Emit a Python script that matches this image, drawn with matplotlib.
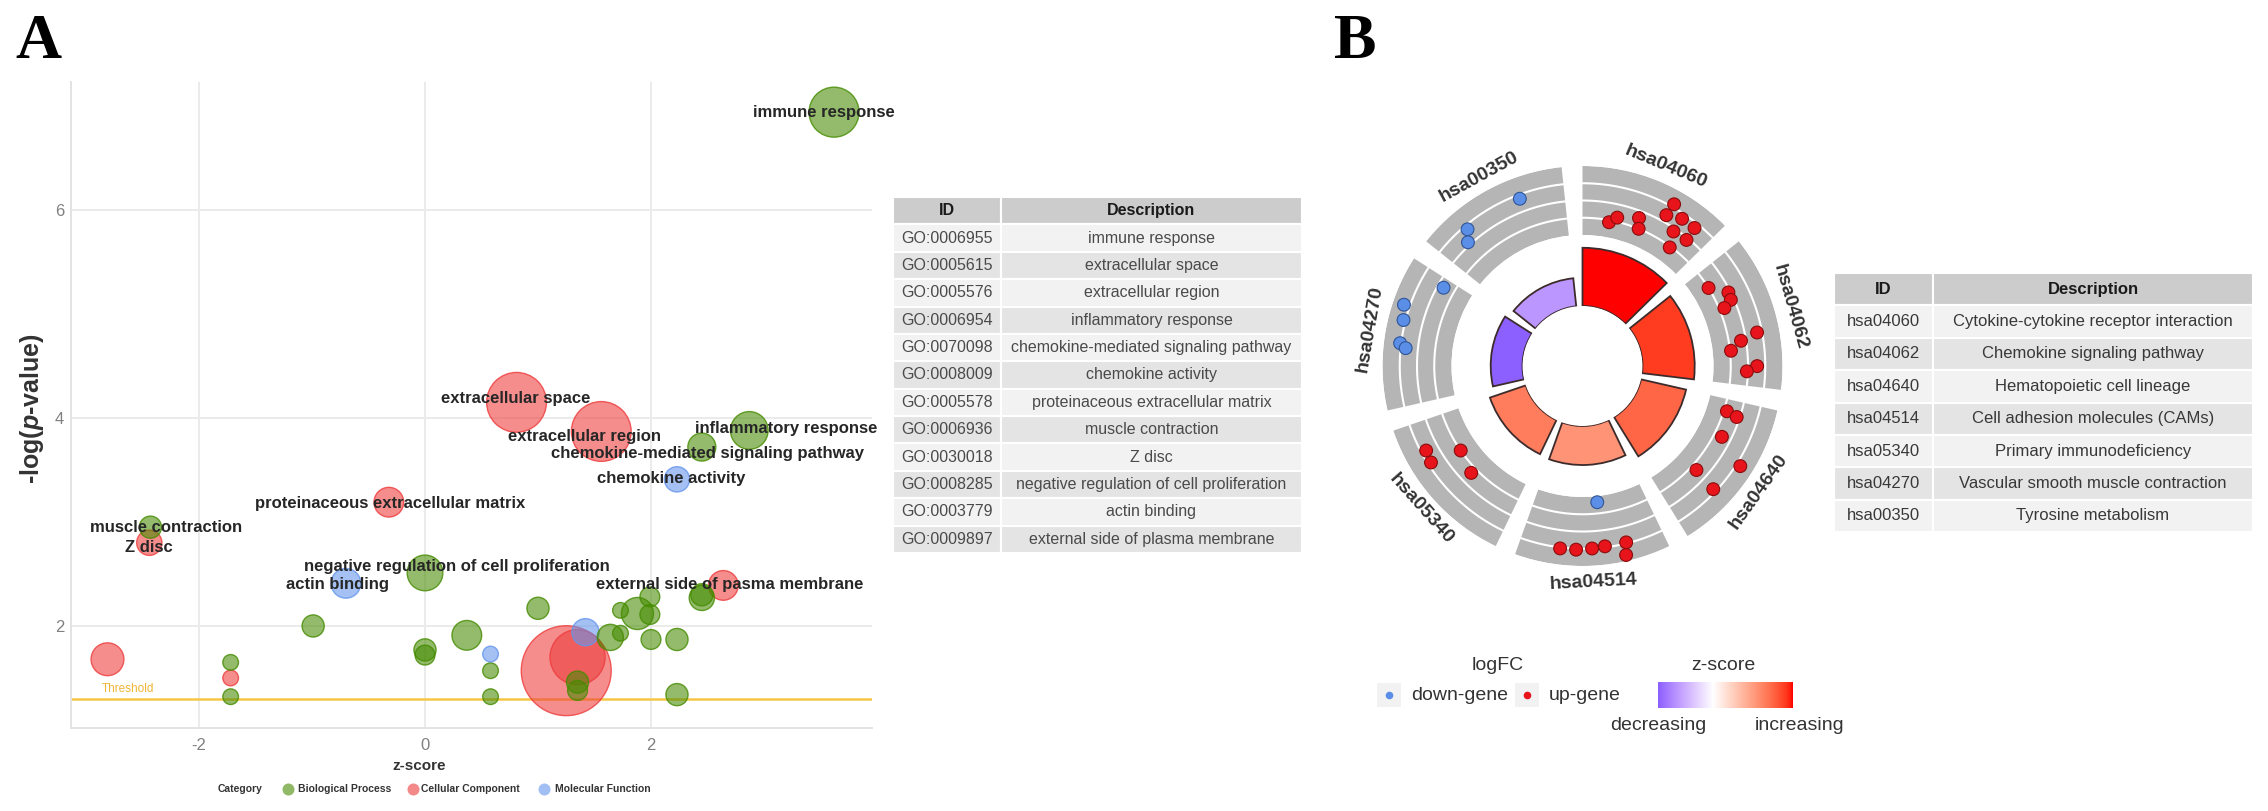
import numpy as np
import matplotlib
matplotlib.use('Agg')
import matplotlib.pyplot as plt
from matplotlib.colors import ListedColormap, Normalize, to_rgba

plt.rcParams['font.family'] = ['Liberation Sans', 'DejaVu Sans']
plt.rcParams['mathtext.fontset'] = 'custom'
plt.rcParams['mathtext.rm'] = 'Liberation Sans'
plt.rcParams['mathtext.bfit'] = 'Liberation Sans:italic:bold'
plt.rcParams['axes.unicode_minus'] = False

W, H = 2268, 811

# ---------------- panel A : GO bubble plot ----------------
bub_cat = ['CC', 'BP', 'CC', 'CC', 'BP', 'MF', 'BP', 'BP', 'BP', 'BP',
           'BP', 'MF', 'BP', 'BP', 'BP', 'CC', 'BP', 'CC', 'CC', 'MF',
           'BP', 'BP', 'BP', 'BP', 'BP', 'BP', 'BP', 'BP', 'BP', 'BP',
           'BP', 'BP', 'BP', 'CC', 'BP', 'BP', 'MF', 'CC', 'CC', 'BP']
bub_z = [-2.81, -2.43, -2.44, -0.32, 0.00, -0.70, -0.99, 1.00, 0.37, 0.00,
         0.00, 0.58, 0.58, 0.58, -1.72, -1.72, -1.72, 1.25, 1.35, 1.42,
         1.35, 1.35, 1.64, 1.73, 1.73, 1.88, 1.99, 1.99, 2.00, 2.23,
         2.23, 2.45, 2.45, 2.64, 2.87, 2.45, 2.23, 1.56, 0.81, 3.62]
bub_logp = [1.68, 2.95, 2.80, 3.19, 2.51, 2.41, 2.00, 2.17, 1.91, 1.77,
            1.72, 1.73, 1.57, 1.32, 1.65, 1.50, 1.32, 1.57, 1.70, 1.94,
            1.46, 1.38, 1.89, 2.15, 1.93, 2.12, 2.28, 2.11, 1.87, 1.87,
            1.34, 2.27, 2.30, 2.39, 3.88, 3.72, 3.41, 3.87, 4.15, 6.94]
bub_count = [22, 10, 13, 18, 26, 18, 10, 10, 18, 10,
             8, 5, 5, 5, 5, 5, 5, 165, 62, 15,
             10, 8, 14, 5, 5, 21, 8, 8, 8, 10,
             10, 13, 10, 18, 29, 16, 13, 73, 73, 51]

bub_labels = ['immune response', 'extracellular space', 'extracellular region',
              'chemokine-mediated signaling pathway', 'inflammatory response',
              'chemokine activity', 'proteinaceous extracellular matrix',
              'muscle contraction', 'Z disc',
              'negative regulation of cell proliferation', 'actin binding',
              'external side of pasma membrane']
label_xy = [(3.53, 6.94), (0.80, 4.19), (1.41, 3.82), (2.50, 3.66), (3.20, 3.90),
            (2.18, 3.42), (-0.31, 3.18), (-2.29, 2.95), (-2.44, 2.75),
            (0.28, 2.57), (-0.77, 2.40), (2.70, 2.40)]

threshold = 1.3

go_ids = ['GO:0006955', 'GO:0005615', 'GO:0005576', 'GO:0006954', 'GO:0070098',
          'GO:0008009', 'GO:0005578', 'GO:0006936', 'GO:0030018', 'GO:0008285',
          'GO:0003779', 'GO:0009897']
go_desc = ['immune response', 'extracellular space', 'extracellular region',
           'inflammatory response', 'chemokine-mediated signaling pathway',
           'chemokine activity', 'proteinaceous extracellular matrix',
           'muscle contraction', 'Z disc', 'negative regulation of cell proliferation',
           'actin binding', 'external side of plasma membrane']

# ---------------- panel B : KEGG circle ----------------
kegg_ids = ['hsa04060', 'hsa04062', 'hsa04640', 'hsa04514', 'hsa05340', 'hsa04270', 'hsa00350']
kegg_desc = ['Cytokine-cytokine receptor interaction', 'Chemokine signaling pathway',
             'Hematopoietic cell lineage', 'Cell adhesion molecules (CAMs)',
             'Primary immunodeficiency', 'Vascular smooth muscle contraction',
             'Tyrosine metabolism']
kegg_z = [3.32, 2.99, 2.49, 1.83, 2.16, -2.29, -1.49]
kegg_logp = [9.7, 8.7, 7.7, 6.5, 6.3, 5.3, 4.7]

# genes on the outer track: term index, place along the term, logFC track value, up/down
gene_term = [0] * 11 + [1] * 9 + [2] * 6 + [3] * 7 + [4] * 4 + [5] * 5 + [6] * 3
gene_frac = [0.23, 0.29, 0.46, 0.49, 0.65, 0.64, 0.75, 0.75, 0.86, 0.87, 0.80,
             0.15, 0.26, 0.32, 0.36, 0.61, 0.65, 0.72, 0.85, 0.89,
             0.10, 0.12, 0.31, 0.65, 0.43, 0.67,
             0.43, 0.72, 0.61, 0.50, 0.41, 0.26, 0.28,
             0.79, 0.70, 0.65, 0.45,
             0.93, 0.70, 0.60, 0.44, 0.41,
             0.68, 0.25, 0.19]
gene_track = [0.88, 1.24, 1.59, 1.00, 3.18, 2.41, 2.71, 1.82, 2.71, 1.88, 0.94,
              1.00, 1.88, 1.82, 1.29, 2.71, 1.71, 1.06, 2.53, 1.94,
              1.18, 1.82, 1.47, 1.35, 3.24, 2.82,
              0.35, 3.06, 3.06, 3.00, 2.94, 2.94, 3.65,
              2.71, 2.82, 1.00, 1.35,
              1.65, 3.35, 3.12, 3.06, 2.71,
              2.76, 2.76, 2.18]
gene_up = [True] * 20 + [True] * 6 + [False] + [True] * 6 + [True] * 4 + [False] * 5 + [False] * 3


def lab2rgb(L, a, b):
    fy = (L + 16) / 116
    fx = fy + a / 500
    fz = fy - b / 200

    def finv(t):
        return np.where(t ** 3 > 0.008856, t ** 3, (t - 16 / 116) / 7.787)
    xyz = np.stack([0.95047 * finv(fx), finv(fy), 1.08883 * finv(fz)])
    M = np.array([[3.2406, -1.5372, -0.4986], [-0.9689, 1.8758, 0.0415], [0.0557, -0.2040, 1.0570]])
    rgb = M @ xyz
    rgb = np.where(rgb > 0.0031308, 1.055 * np.abs(rgb) ** (1 / 2.4) - 0.055, 12.92 * rgb)
    return np.clip(rgb, 0, 1).T


# blue - white - red gradient interpolated in Lab (like scale_fill_gradient2)
tt = np.linspace(-1, 1, 256)
white = np.array([100.0, 0, 0])
red = np.array([53.24, 80.09, 67.20])
blue = np.array([32.30, 79.19, -107.86])
lab = np.where(tt[:, None] < 0, white + (-tt[:, None]) * (blue - white), white + tt[:, None] * (red - white))
zcmap = ListedColormap(lab2rgb(lab[:, 0], lab[:, 1], lab[:, 2]))
zmax = max(abs(v) for v in kegg_z)
znorm = Normalize(-zmax, zmax)

fig = plt.figure(figsize=(W / 100, H / 100), dpi=100)


def px_axes(x0, y0, x1, y1, **kw):
    return fig.add_axes([x0 / W, 1 - y1 / H, (x1 - x0) / W, (y1 - y0) / H], **kw)


# ---- bubble plot
ax = px_axes(71, 82, 872, 728)
cat_col = {'BP': '#458B00', 'CC': '#EE3B3B', 'MF': '#6495ED'}
order = np.argsort(bub_count, kind='stable')[::-1]
zs = np.array(bub_z)[order]
ps = np.array(bub_logp)[order]
cs = np.array(bub_count)[order]
face = [to_rgba(cat_col[bub_cat[i]], 0.58) for i in order]
edge = [to_rgba(cat_col[bub_cat[i]], 0.8) for i in order]
ax.axhline(threshold, color='#f5c646', lw=1.8, zorder=1)
ax.scatter(zs, ps, s=cs * 25.4, facecolors=face, edgecolors=edge, linewidths=1.0, zorder=3)
ax.text(-2.86, 1.39, 'Threshold', color='#f0b435', fontsize=8.5, ha='left', va='center', zorder=4)
for txt, (lx, ly) in zip(bub_labels, label_xy):
    ax.text(lx, ly, txt, fontsize=12, fontweight='bold', color='#262626',
            ha='center', va='center', zorder=5)
ax.set_xlim(-3.133, 3.956)
ax.set_ylim(1.019, 7.23)
ax.set_xticks([-2, 0, 2])
ax.set_yticks([2, 4, 6])
ax.tick_params(length=0, labelsize=12, labelcolor='#808080')
ax.tick_params(axis='x', pad=7)
ax.tick_params(axis='y', pad=5)
ax.grid(color='#ebebeb', lw=1.4, zorder=0)
ax.set_axisbelow(True)
for sp in ['top', 'right']:
    ax.spines[sp].set_visible(False)
for sp in ['left', 'bottom']:
    ax.spines[sp].set_color('#e3e3e3')
    ax.spines[sp].set_linewidth(1.4)
ax.text((419 - 71) / 801, -(766 - 728) / 646, 'z-score', transform=ax.transAxes,
        ha='center', va='center', fontsize=11, fontweight='bold', color='#333333')
ax.text(-(71 - 32) / 801, 0.494, r'-log($\mathbfit{p}$-value)', transform=ax.transAxes,
        rotation=90, ha='center', va='center', fontsize=18, fontweight='bold', color='#333333')

# ---- tables
def draw_table(box, ids, desc, col_frac, fs, txt_col):
    tax = px_axes(*box)
    tax.set_axis_off()
    tb = tax.table(cellText=[[i, d] for i, d in zip(ids, desc)], colLabels=['ID', 'Description'],
                   cellLoc='center', colWidths=col_frac, bbox=[0, 0, 1, 1])
    tb.auto_set_font_size(False)
    tb.set_fontsize(fs)
    for (r, c), cell in tb.get_celld().items():
        cell.set_edgecolor('white')
        cell.set_linewidth(1.5)
        if r == 0:
            cell.set_facecolor('#cccccc')
            cell.get_text().set_fontweight('bold')
            cell.get_text().set_color('#1a1a1a')
        else:
            cell.set_facecolor('#f2f2f2' if r % 2 else '#e4e4e4')
            cell.get_text().set_color(txt_col)


draw_table((893, 197, 1302, 553), go_ids, go_desc, [0.264, 0.736], 11.5, '#4a4a4a')
draw_table((1834, 273, 2253, 532), kegg_ids, kegg_desc, [0.236, 0.764], 12, '#383838')

# ---- circle plot
n = len(kegg_ids)
step = 360 / n
gap = 6.0
seg_start = 90 - np.arange(n) * step
seg_end = seg_start - (step - gap)
seg_mid = (seg_start + seg_end) / 2
cx, cy, R = 1582.5, 366, 200
circ_box = (cx - R, cy - R, cx + R, cy + R)

ax_in = px_axes(*circ_box, projection='polar')
ax_in.set_rorigin(-10)
ax_in.set_ylim(0, 23.33)
ax_in.bar(np.deg2rad(seg_mid), kegg_logp, width=np.deg2rad(step - gap), bottom=0,
          color=zcmap(znorm(np.array(kegg_z))), edgecolor='#3d2b2b', linewidth=1.3)
ax_in.set_axis_off()

ax_out = px_axes(*circ_box, projection='polar')
ax_out.set_rorigin(-131 / 17.25)
ax_out.set_ylim(0, 4)
ax_out.bar(np.deg2rad(seg_mid), 4, width=np.deg2rad(step - gap), bottom=0,
           color='#b5b5b5', linewidth=0)
for s0, s1 in zip(seg_start, seg_end):
    th = np.deg2rad(np.linspace(s0, s1, 80))
    for lev in (1, 2, 3):
        ax_out.plot(th, np.full_like(th, lev), color='white', lw=1.5)
gene_theta = np.array([seg_start[t] - f * (step - gap) for t, f in zip(gene_term, gene_frac)])
dot_face = ['#e8141b' if u else '#5b8ee6' for u in gene_up]
dot_edge = ['#8a0b0b' if u else '#2f5597' for u in gene_up]
ax_out.scatter(np.deg2rad(gene_theta), gene_track, s=85, c=dot_face, edgecolors=dot_edge,
               linewidths=0.8, zorder=3, clip_on=False)
for lab_id, m in zip(kegg_ids, seg_mid):
    rot = m - 90 if 0 < (m % 360) < 180 else m + 90
    ax_out.text(np.deg2rad(m), (216 - 131) / 17.25, lab_id, rotation=rot, rotation_mode='anchor',
                ha='center', va='center', fontsize=14, fontweight='bold', color='#333333',
                clip_on=False)
ax_out.set_axis_off()

# ---- overlay for panel letters and legends
ov = fig.add_axes([0, 0, 1, 1])
ov.set_xlim(0, W)
ov.set_ylim(H, 0)
ov.set_axis_off()
ov.text(15, 58, 'A', family='Liberation Serif', fontweight='bold', fontsize=46, va='baseline')
ov.text(1334, 58, 'B', family='Liberation Serif', fontweight='bold', fontsize=46, va='baseline')

# legend panel A
ov.text(218, 789, 'Category', fontsize=7.5, fontweight='bold', color='#333333', va='center')
for cx_, tx_, key, name in [(288, 298, 'BP', 'Biological Process'),
                            (413, 421, 'CC', 'Cellular Component'),
                            (544, 555, 'MF', 'Molecular Function')]:
    ov.scatter([cx_], [789], s=75, color=to_rgba(cat_col[key], 0.6), linewidths=0)
    ov.text(tx_, 789, name, fontsize=7.5, fontweight='bold', color='#333333', va='center')

# legend panel B
ov.text(1498, 665, 'logFC', fontsize=14, color='#333333', ha='center', va='center')
for bx, tx_, col, name in [(1389, 1411, '#5b8ee6', 'down-gene'), (1527, 1549, '#e8141b', 'up-gene')]:
    ov.add_patch(plt.Rectangle((bx - 12, 683), 24, 24, color='#f2f2f2', lw=0))
    ov.scatter([bx], [695], s=30, color=col, linewidths=0)
    ov.text(tx_, 696, name, fontsize=14, color='#333333', va='center')
ov.text(1723, 665, 'z-score', fontsize=14, color='#333333', ha='center', va='center')
ov.text(1658, 725, 'decreasing', fontsize=14, color='#333333', ha='center', va='center')
ov.text(1800, 725, 'increasing', fontsize=14, color='#333333', ha='center', va='center')

cb = px_axes(1658, 682, 1792, 708)
zr = np.linspace(min(kegg_z), max(kegg_z), 256)
cb.imshow(zr[None, :], cmap=zcmap, norm=znorm, aspect='auto',
          extent=[zr[0], zr[-1], 0, 1])
cb.set_axis_off()

fig.savefig('out.png', dpi=100)
